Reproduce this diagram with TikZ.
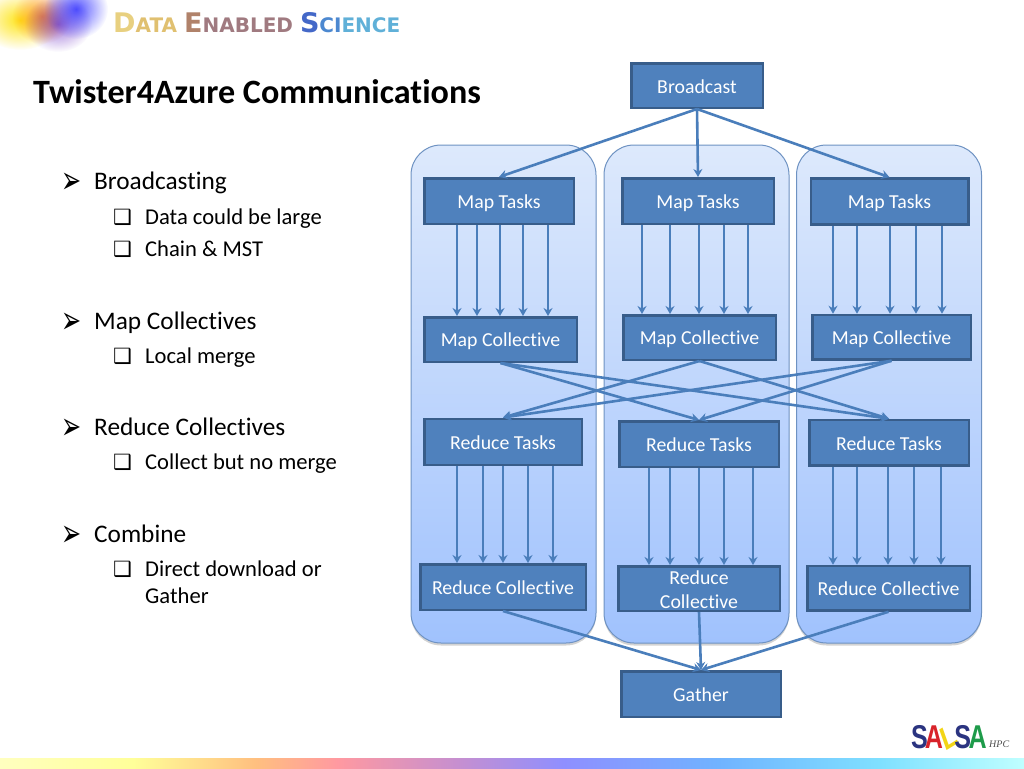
\documentclass[tikz,border=0pt]{standalone}
\usepackage{fontspec}
\setmainfont[Ligatures=CommonOff]{Carlito}
\newfontfamily\symfont{DejaVu Sans}
\newfontfamily\bannerfont{DejaVu Sans}
\newfontfamily\logofont{Liberation Sans}
\newfontfamily\hpcfont{Liberation Serif}
\usetikzlibrary{positioning}
\usetikzlibrary{arrows.meta}
\usetikzlibrary{shadows}
\usetikzlibrary{fadings}
\tikzfading[name=blobfade, inner color=transparent!0, outer color=transparent!100]
\definecolor{boxfill}{HTML}{4F81BD}
\definecolor{boxline}{HTML}{385D8A}
\definecolor{flowline}{HTML}{4A7EBB}
\definecolor{paneltop}{HTML}{DDE9FC}
\definecolor{panelbot}{HTML}{A0C2FD}
\definecolor{panelline}{HTML}{6E92C2}
\pgfdeclarehorizontalshading{stripshade}{100bp}{
	rgb(0bp)=(1,1,.75);
	rgb(25bp)=(1,1,.75);
	rgb(31.5bp)=(1,1,.6);
	rgb(37.5bp)=(1,.75,.5);
	rgb(41.5bp)=(1,.6,.63);
	rgb(47.5bp)=(.77,.56,.82);
	rgb(52.5bp)=(.56,.56,1);
	rgb(60bp)=(.44,.7,1);
	rgb(68bp)=(.5,.88,1);
	rgb(75bp)=(.75,1,1);
	rgb(100bp)=(.75,1,1)}
\tikzset{
	block/.style={draw=boxline, fill=boxfill, rectangle, line width=2.5pt, text=white, inner sep=0pt,
		font=\fontsize{19.8}{24}\selectfont, align=center, execute at begin node=\rule[-3pt]{0pt}{21pt}},
	panel/.style={draw=panelline, line width=1pt, rectangle, rounded corners=30pt, top color=paneltop, bottom color=panelbot,
		minimum width=185pt, minimum height=498pt, inner sep=0pt,
		drop shadow={shadow xshift=0pt, shadow yshift=-2.5pt, opacity=.35}},
	flow/.style={->, >={Stealth[length=8pt, width=9pt]}, draw=flowline, line width=2.6pt},
	head/.style={anchor=base west, inner sep=0pt, font=\fontsize{25.3}{28}\selectfont},
	sub/.style={anchor=base west, inner sep=0pt, font=\fontsize{22.6}{28}\selectfont, align=left},
	bulletmark/.style={anchor=base west, inner sep=0pt}
}
\newcommand{\bl}[2]{{\color[HTML]{#1}\fontsize{27}{27}\selectfont #2}}
\newcommand{\sm}[2]{{\color[HTML]{#1}\fontsize{20}{27}\selectfont #2}}
\begin{document}
\begin{tikzpicture}[x=1pt, y=-1pt]
\useasboundingbox (0,0) rectangle (1024,768);
% banner
\fill[yellow!85!orange, opacity=.9, path fading=blobfade] (20,20) ellipse (42 and 30);
\fill[orange!80!red, opacity=.6, path fading=blobfade] (42,16) ellipse (30 and 28);
\fill[blue!60!black!70!magenta, opacity=.55, path fading=blobfade] (58,24) ellipse (34 and 28);
\fill[blue!80!white, opacity=.85, path fading=blobfade] (76,9) ellipse (32 and 30);
\node (banner) [anchor=base west, inner sep=0pt] at (113,33) {\bannerfont\bfseries
	\bl{E8D080}{D}\sm{E0C070}{ATA}\hspace{7pt}\bl{B0826A}{E}\sm{A07A80}{NABLED}\hspace{7pt}\bl{4468C8}{S}\sm{4C88D0}{CI}\sm{60B0D8}{ENCE}};
\node (title) [anchor=base west, inner sep=0pt, font=\fontsize{34.1}{36}\selectfont\bfseries] at (33,103) {Twister4Azure Communications};
% bullets
\foreach \Y/\T [count=\i] in {189/Broadcasting, 329/Map Collectives, 435/Reduce Collectives, 542/Combine}
{\node (head\i) [head] at (94,\Y) {\T};
	\node (hm\i) [bulletmark, font=\symfont\fontsize{24}{24}\selectfont] at (61,\Y+4) {\scalebox{1}[1.6]{➢}};}
\foreach \Y/\T [count=\i] in {224/Data could be large, 256/Chain \& MST, 363/Local merge, 469/Collect but no merge, 576/Direct download or}
{\node (sub\i) [sub] at (145,\Y) {\T};
	\node (sm\i) [bulletmark, font=\symfont\fontsize{21}{24}\selectfont] at (113,\Y) {❑};}
\node (sub6) [sub] at (145,603) {Gather};
% panels
\node (panel1) [panel] at (503.5,394) {};
\node (panel2) [panel] at (696.5,394) {};
\node (panel3) [panel] at (889,394) {};
% boxes
\node (cast) [block, minimum width=131.5pt, minimum height=44.5pt] at (697,85.5) {Broadcast};
\node (mapt1) [block, minimum width=149.5pt, minimum height=45.5pt] at (499,201) {Map Tasks};
\node (mapt2) [block, minimum width=151.5pt, minimum height=45.5pt] at (698,201) {Map Tasks};
\node (mapt3) [block, minimum width=157.5pt, minimum height=46pt] at (889.5,201.5) {Map Tasks};
\node (mapc1) [block, minimum width=152.5pt, minimum height=44.5pt, below=91pt of mapt1, xshift=1.5pt] {Map Collective};
\node (mapc2) [block, minimum width=152.5pt, minimum height=44.5pt, below=89pt of mapt2, xshift=1.5pt] {Map Collective};
\node (mapc3) [block, minimum width=158.5pt, minimum height=44.5pt, below=88pt of mapt3, xshift=2pt] {Map Collective};
\node (redt1) [block, minimum width=157.5pt, minimum height=46pt, below=54.5pt of mapc1, xshift=2.5pt] {Reduce Tasks};
\node (redt2) [block, minimum width=159.5pt, minimum height=45.5pt, below=59pt of mapc2, xshift=-.5pt] {Reduce Tasks};
\node (redt3) [block, minimum width=159.5pt, minimum height=45.5pt, below=58pt of mapc3, xshift=-2.5pt] {Reduce Tasks};
\node (redc1) [block, minimum width=165.5pt, minimum height=45.5pt, below=97pt of redt1] {Reduce Collective};
\node (redc2) [block, minimum width=161.5pt, minimum height=44.5pt, below=97pt of redt2] {\raisebox{-9pt}[0pt][0pt]{Reduce}\\\raisebox{-9pt}[0pt][0pt]{Collective}};
\node (redc3) [block, minimum width=162.5pt, minimum height=44.5pt, below=98pt of redt3, xshift=-.5pt] {Reduce Collective};
\node (gather) [block, minimum width=159.5pt, minimum height=45.5pt] at (701,694) {Gather};
% arrows
\draw[flow] (cast.south) -- (mapt1.north);
\draw[flow] (cast.south) -- (mapt2.north);
\draw[flow] (cast.south) -- (mapt3.north);
\foreach \X in {457,477,500,523,548} {\draw[flow] (mapt1.south -| \X,0) -- (mapc1.north -| \X,0);}
\foreach \X in {642,670,699,724,748} {\draw[flow] (mapt2.south -| \X,0) -- (mapc2.north -| \X,0);}
\foreach \X in {833,857,890,916,942} {\draw[flow] (mapt3.south -| \X,0) -- (mapc3.north -| \X,0);}
\draw[flow] (mapc1.south) -- (redt2.north);
\draw[flow] (mapc1.south) -- (redt3.north);
\draw[flow] (mapc2.south) -- (redt1.north);
\draw[flow] (mapc2.south) -- (redt3.north);
\draw[flow] (mapc3.south) -- (redt1.north);
\draw[flow] (mapc3.south) -- (redt2.north);
\foreach \X in {457,483,503,528,553} {\draw[flow] (redt1.south -| \X,0) -- (redc1.north -| \X,0);}
\foreach \X in {649,670,699,724,753} {\draw[flow] (redt2.south -| \X,0) -- (redc2.north -| \X,0);}
\foreach \X in {833,857,888,914,941} {\draw[flow] (redt3.south -| \X,0) -- (redc3.north -| \X,0);}
\draw[flow] (redc1.south) -- (gather.north);
\draw[flow] (redc2.south) -- (gather.north);
\draw[flow] (redc3.south) -- (gather.north);
% logo and strip
\node (salsa) [anchor=base west, inner sep=0pt, xscale=.76, font=\logofont\bfseries\fontsize{33}{33}\selectfont] at (911,748)
	{\color[HTML]{2B3480}S\kern-4pt\color[HTML]{D8232A}A\kern-6pt\color[HTML]{F2D516}\rotatebox[origin=c]{25}{L}\kern-7pt\color[HTML]{2B3480}S\kern-3pt\color[HTML]{1E9B4A}A};
\node (hpc) [anchor=base west, inner sep=0pt, font=\hpcfont\itshape\fontsize{10}{10}\selectfont, text=black!70] at (989,747) {HPC};
\shade[shading=stripshade] (0,758) rectangle (1024,768);
\end{tikzpicture}
\end{document}
